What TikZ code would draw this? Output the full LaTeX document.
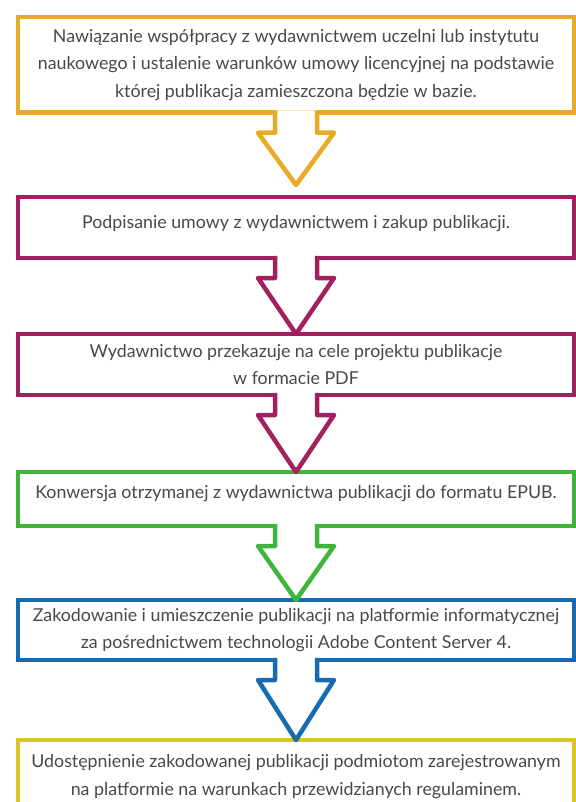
\documentclass[tikz,border=0pt]{standalone}
\usepackage{fontspec}
\setmainfont{Lato}
\usepackage{tikz}
\usetikzlibrary{calc,positioning}

\definecolor{pomaranczowy}{RGB}{233,170,38}
\definecolor{purpurowy}{RGB}{162,32,96}
\definecolor{zielony}{RGB}{62,182,58}
\definecolor{niebieski}{RGB}{22,106,176}
\definecolor{zolty}{RGB}{218,196,32}
\definecolor{tekst}{RGB}{72,72,72}

\tikzset{
    %Define style for boxes
    krok/.style={
        rectangle,
        draw=#1,
        line width=4.5pt,
        outer sep=0pt,
        minimum width=556pt,
        anchor=north,
        align=center,
        text=tekst,
        font=\fontsize{17.8}{27.5}\selectfont,
    },
    %block arrow between boxes
    strzalka/.style={
        draw=#1,
        line width=4.5pt,
        fill=white,
        line join=round,
    },
}

% #1 gap above the next box, #2 colour, #3 from, #4 to
\newcommand{\blokstrzalka}[4][0]{%
    \path (#3.south) coordinate (s) (#4.north) coordinate (t);
    \draw[strzalka=#2] ($(s)+(-21,-2.25)$) -- ($(s)+(-21,20)$) -- ($(s)+(-38,20)$)
        -- ($(t)+(0,-#1)$) -- ($(s)+(38,20)$) -- ($(s)+(21,20)$) -- ($(s)+(21,-2.25)$);
}

\begin{document}
\begin{tikzpicture}[x=1pt,y=-1pt]
    \useasboundingbox (0,0) rectangle (575,802);

    \node[krok=pomaranczowy, minimum height=95.5] (umowa) at (296,17.25)
        {Nawiązanie współpracy z wydawnictwem uczelni lub instytutu\\
         naukowego i ustalenie warunków umowy licencyjnej na podstawie\\
         której publikacja zamieszczona będzie w bazie.};
    \node[krok=purpurowy, minimum height=61, text depth=12pt] (zakup) at (296,197)
        {Podpisanie umowy z wydawnictwem i zakup publikacji.};
    \node[krok=purpurowy, minimum height=61] (pdf) at (296,334)
        {Wydawnictwo przekazuje na cele projektu publikacje\\
         w formacie PDF};
    \node[krok=zielony, minimum height=54, text depth=14pt] (epub) at (296,472)
        {Konwersja otrzymanej z wydawnictwa publikacji do formatu EPUB.};
    \node[krok=niebieski, minimum height=60] (serwer) at (296,600)
        {Zakodowanie i umieszczenie publikacji na platformie informatycznej\\
         za pośrednictwem technologii Adobe Content Server 4.};
    \node[krok=zolty, minimum height=73] (dostep) at (296,740)
        {Udostępnienie zakodowanej publikacji podmiotom zarejestrowanym\\
         na platformie na warunkach przewidzianych regulaminem.};

    \blokstrzalka[12]{pomaranczowy}{umowa}{zakup}
    \blokstrzalka{purpurowy}{zakup}{pdf}
    \blokstrzalka{purpurowy}{pdf}{epub}
    \blokstrzalka{zielony}{epub}{serwer}
    \blokstrzalka{niebieski}{serwer}{dostep}
\end{tikzpicture}
\end{document}
